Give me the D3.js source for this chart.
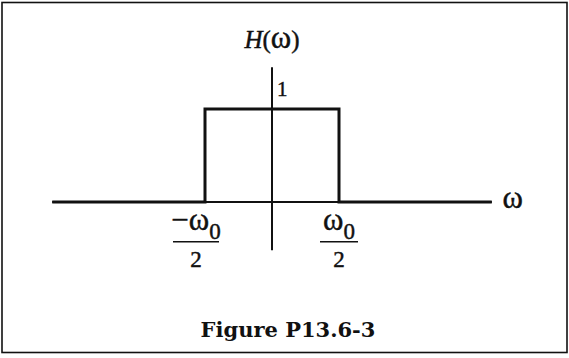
<!DOCTYPE html>
<html>
<head>
<meta charset="utf-8">
<script src="https://cdn.jsdelivr.net/npm/d3@7"></script>
<style>
  html, body { margin: 0; padding: 0; background: #fff; }
  svg { display: block; }
  text { fill: #111; }
  text.lbl { stroke: #111; stroke-width: 0.45px; }
</style>
</head>
<body>
<svg id="chart" width="569" height="358"></svg>
<script>
// Ideal low-pass response H(ω): 1 for |ω| < ω0/2, 0 elsewhere.
// Frequencies are in units of ω0/2.
const omega = [-3.28, -1, -1, 1, 1, 3.28];
const gain = [0, 0, 1, 1, 0, 0];

// Axis extents (same units)
const xAxisDomain = [-3.28, 3.28];
const yAxisDomain = [-0.52, 1.45];

// Labelled ticks on the ω axis
const tickValues = [-1, 1];
const tickNumerators = ["\u2212\u03C9", "\u03C9"];
const tickDenominator = "2";
const yTickValue = 1;
const yTickLabel = "1";

const SERIF = "'Liberation Serif', 'Times New Roman', serif";

const svg = d3.select("#chart");

const x = d3.scaleLinear().domain([-1, 1]).range([205, 339]);
const y = d3.scaleLinear().domain([0, 1]).range([202, 109]);

// Frame
svg.append("rect")
  .attr("x", 2).attr("y", 2.5)
  .attr("width", 565).attr("height", 350)
  .attr("fill", "none").attr("stroke", "#111").attr("stroke-width", 1.6);

// ω axis
svg.append("line")
  .attr("x1", x(xAxisDomain[0])).attr("x2", x(xAxisDomain[1]))
  .attr("y1", y(0)).attr("y2", y(0))
  .attr("stroke", "#111").attr("stroke-width", 2);

// H axis
svg.append("line")
  .attr("x1", x(0)).attr("x2", x(0))
  .attr("y1", y(yAxisDomain[0])).attr("y2", y(yAxisDomain[1]))
  .attr("stroke", "#111").attr("stroke-width", 2);

// Response curve
const pts = omega.map((w, i) => [w, gain[i]]);
svg.append("path")
  .datum(pts)
  .attr("d", d3.line().x(d => x(d[0])).y(d => y(d[1])))
  .attr("fill", "none").attr("stroke", "#111")
  .attr("stroke-width", 3).attr("stroke-linejoin", "miter");

// Axis titles
const ht = svg.append("text")
  .attr("class", "lbl")
  .attr("x", x(0)).attr("y", y(yAxisDomain[1]) - 19)
  .attr("text-anchor", "middle")
  .style("font-family", SERIF)
  .style("font-size", "25px");
ht.append("tspan").style("font-style", "italic").text("H");
ht.append("tspan").text("(");
ht.append("tspan").style("font-size", "31px").text("\u03C9");
ht.append("tspan").text(")");

svg.append("text")
  .attr("class", "lbl")
  .attr("x", x(xAxisDomain[1]) + 21).attr("y", y(0) + 6)
  .attr("text-anchor", "middle")
  .style("font-family", SERIF)
  .style("font-size", "31px")
  .text("\u03C9");

// "1" label on H axis
svg.append("text")
  .attr("class", "lbl")
  .attr("x", x(0) + 5).attr("y", y(yTickValue) - 13)
  .style("font-family", SERIF)
  .style("font-size", "21px")
  .text(yTickLabel);

// Fraction tick labels
tickValues.forEach((v, i) => {
  const cx = x(v) + (v < 0 ? -9 : 0);
  const g = svg.append("g").attr("transform", `translate(${cx},0)`);
  const num = g.append("text")
    .attr("class", "lbl")
    .attr("x", 0).attr("y", 230)
    .attr("text-anchor", "middle")
    .style("font-family", SERIF)
    .style("font-size", "31px");
  num.append("tspan").text(tickNumerators[i]);
  num.append("tspan").style("font-size", "23px").attr("dy", 9).text("0");
  const halfW = v < 0 ? 23 : 19;
  g.append("line")
    .attr("x1", -halfW).attr("x2", halfW)
    .attr("y1", 241.7).attr("y2", 241.7)
    .attr("stroke", "#111").attr("stroke-width", 1.4);
  g.append("text")
    .attr("class", "lbl")
    .attr("x", 0).attr("y", 267)
    .attr("text-anchor", "middle")
    .style("font-family", SERIF)
    .style("font-size", "23px")
    .text(tickDenominator);
});

// Caption
svg.append("text")
  .attr("x", 288).attr("y", 337)
  .attr("text-anchor", "middle")
  .style("font-family", "'DejaVu Serif', serif")
  .style("font-weight", "bold")
  .style("font-size", "21px")
  .text("Figure P13.6-3");
</script>
</body>
</html>
